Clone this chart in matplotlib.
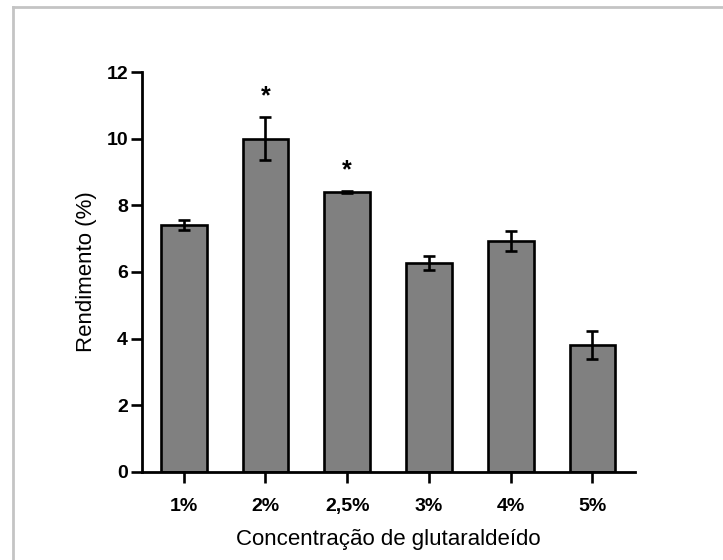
import matplotlib
matplotlib.use("Agg")
import matplotlib.pyplot as plt
from matplotlib.lines import Line2D
import numpy as np

plt.rcParams['font.family'] = ['Liberation Sans', 'DejaVu Sans']

# dados
categorias = ["1%", "2%", "2,5%", "3%", "4%", "5%"]
rendimento = [7.41, 10.0, 8.40, 6.27, 6.93, 3.80]
erro = [0.14, 0.65, 0.03, 0.22, 0.30, 0.42]
significativo = [False, True, True, False, False, False]

fig = plt.figure(figsize=(7.23, 5.60), dpi=100)
ax = fig.add_axes([142 / 723, 88 / 560, 493 / 723, 400 / 560])

x = np.arange(len(categorias))
ax.bar(x, rendimento, width=0.56, color="#808080", edgecolor="black",
       linewidth=1.9, zorder=2)
ax.errorbar(x, rendimento, yerr=erro, fmt="none", ecolor="black",
            elinewidth=1.9, capsize=4.5, capthick=1.9, zorder=3)

# asteriscos
for xi, v, e, s in zip(x, rendimento, erro, significativo):
    if s:
        ax.annotate("*", (xi, v + e), xytext=(0, 15), textcoords="offset points",
                    ha="center", va="center", fontsize=18, fontweight="bold")

ax.set_xlim(-0.51, 5.52)
ax.set_ylim(0, 12)
ax.set_yticks(range(0, 13, 2))
ax.set_xticks(x)
ax.set_xticklabels(categorias)

for s in ["top", "right"]:
    ax.spines[s].set_visible(False)
for s in ["left", "bottom"]:
    ax.spines[s].set_linewidth(2.0)

ax.tick_params(axis="both", width=1.9, length=8, labelsize=14)
ax.tick_params(axis="x", pad=11)
ax.tick_params(axis="y", pad=2)
for lab in ax.get_xticklabels() + ax.get_yticklabels():
    lab.set_fontweight("bold")

ax.set_xlabel("Concentração de glutaraldeído", fontsize=16, labelpad=10)
ax.set_ylabel("Rendimento (%)", fontsize=16, labelpad=7)

# moldura cinza (topo e esquerda)
fig.add_artist(Line2D([13 / 723, 13 / 723], [0, 1 - 6.5 / 560],
                      transform=fig.transFigure, color="#c4c4c4", linewidth=2))
fig.add_artist(Line2D([13 / 723, 1], [1 - 6.5 / 560, 1 - 6.5 / 560],
                      transform=fig.transFigure, color="#c4c4c4", linewidth=2))

fig.savefig("out.png", dpi=100)
